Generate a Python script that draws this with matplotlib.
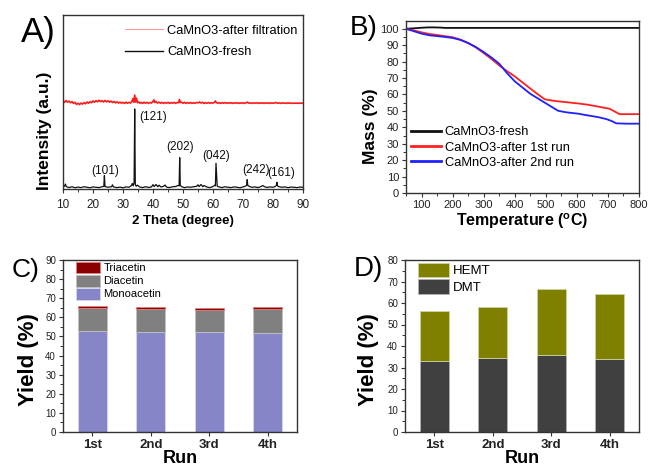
import numpy as np
import matplotlib
matplotlib.use("Agg")
import matplotlib.pyplot as plt
from matplotlib.lines import Line2D
from matplotlib.ticker import MultipleLocator

plt.rcParams['font.family'] = ['Liberation Sans', 'DejaVu Sans']

# ---------------- Panel A data (XRD) ----------------
fresh_2theta = [10.0, 10.5, 10.8, 11.1, 12.0, 13.0, 14.0, 15.0, 16.0, 17.0, 18.0, 19.0, 20.0, 21.0, 22.0,
                23.0, 23.6, 23.8, 24.0, 25.0, 26.2, 26.5, 26.8, 28.0, 29.0, 30.0, 31.0, 32.0, 32.8,
                33.1, 33.4, 33.7, 33.9, 34.1, 34.4, 34.8, 35.5, 36.5, 37.5, 38.5, 39.5, 40.0, 40.4,
                41.0, 41.6, 42.0, 42.6, 43.5, 44.0, 44.5, 45.5, 46.5, 47.5, 48.3, 48.7, 48.9, 49.1,
                49.6, 50.5, 51.5, 52.5, 53.5, 54.5, 55.0, 55.4, 56.0, 56.6, 57.0, 58.0, 59.0, 60.0,
                60.6, 60.8, 61.0, 61.4, 62.0, 63.0, 64.0, 65.0, 66.0, 67.0, 68.0, 69.0, 70.0, 70.8,
                71.2, 71.4, 71.6, 72.2, 73.0, 74.0, 75.0, 76.0, 76.6, 77.2, 78.0, 79.0, 80.0, 80.8,
                81.1, 81.3, 81.5, 82.0, 83.0, 84.0, 85.0, 86.0, 87.0, 88.0, 89.0, 90.0]
fresh_int = [0.2, 0.6, 1.8, 0.4, -0.2, 0.3, -0.3, 0.1, -0.2, 0.3, 0.0, -0.3, 0.2, 0.0, -0.2,
             0.3, 0.5, 6.7, 0.4, 0.0, 0.3, 1.4, 0.2, -0.2, 0.1, -0.3, 0.2, 0.0, 1.0,
             2.2, 0.8, 2.6, 45.0, 1.5, 0.6, 1.2, 0.2, -0.2, 0.3, -0.1, 0.2, 1.5, 0.4,
             1.6, 0.3, 1.2, 0.2, 0.5, 1.3, 0.1, -0.2, 0.3, 0.4, 1.0, 0.8, 17.0, 1.0,
             0.3, -0.2, 0.2, 0.0, 0.3, 0.5, 1.4, 0.4, 1.6, 0.3, 1.0, 0.1, -0.2, 0.4,
             1.2, 0.8, 13.8, 0.6, 0.2, -0.2, 0.3, 0.0, -0.2, 0.2, 0.0, -0.3, 0.2, 0.6,
             1.2, 4.4, 1.0, 0.4, 0.0, 0.2, -0.2, 0.4, 1.0, 0.3, -0.1, 0.2, 0.0, 0.5,
             1.0, 2.9, 0.8, 0.3, 0.0, 0.2, -0.2, 0.1, 0.0, -0.2, 0.1, 0.0]

filtered_2theta = [10.0, 10.5, 11.0, 11.5, 12.0, 12.5, 13.0, 13.5, 14.0, 14.5, 15.0, 15.5, 16.0, 16.5,
                   17.0, 17.5, 18.0, 18.5, 19.0, 19.5, 20.0, 20.5, 21.0, 21.5, 22.0, 22.5, 23.0, 23.5,
                   24.0, 24.5, 25.0, 25.5, 26.0, 26.5, 27.0, 27.5, 28.0, 28.5, 29.0, 29.5, 30.0, 30.5,
                   31.0, 31.5, 32.0, 32.5, 33.0, 33.3, 33.6, 33.9, 34.2, 34.5, 34.8, 35.2, 35.6, 36.0,
                   36.5, 37.0, 37.5, 38.0, 38.5, 39.0, 39.5, 40.0, 40.3, 40.6, 41.0, 41.5, 42.0, 42.5,
                   43.0, 43.5, 44.0, 44.5, 45.0, 45.5, 46.0, 46.5, 47.0, 47.5, 48.0, 48.5, 48.8, 49.1,
                   49.5, 50.0, 50.5, 51.0, 51.5, 52.0, 52.5, 53.0, 53.5, 54.0, 54.5, 55.0, 55.5, 56.0,
                   56.5, 57.0, 57.5, 58.0, 58.5, 59.0, 59.5, 60.0, 60.5, 60.8, 61.1, 61.5, 62.0, 62.5,
                   63.0, 63.5, 64.0, 64.5, 65.0, 65.5, 66.0, 66.5, 67.0, 67.5, 68.0, 68.5, 69.0, 69.5,
                   70.0, 70.5, 71.0, 71.5, 72.0, 72.5, 73.0, 73.5, 74.0, 74.5, 75.0, 75.5, 76.0, 76.5,
                   77.0, 77.5, 78.0, 78.5, 79.0, 79.5, 80.0, 80.5, 81.0, 81.5, 82.0, 82.5, 83.0, 83.5,
                   84.0, 84.5, 85.0, 85.5, 86.0, 86.5, 87.0, 87.5, 88.0, 88.5, 89.0, 89.5, 90.0]
filtered_int = [49.6, 48.8, 49.9, 48.9, 49.5, 48.6, 49.2, 48.2, 48.8, 47.6, 48.3, 47.5, 48.4, 47.8,
                48.6, 48.0, 49.0, 48.3, 49.2, 48.6, 49.6, 48.9, 49.8, 49.1, 50.0, 49.2, 49.8, 49.0,
                49.9, 49.1, 49.7, 48.9, 49.5, 48.7, 49.3, 48.5, 49.1, 48.4, 48.9, 48.3, 48.8, 48.2,
                48.9, 48.3, 48.8, 48.4, 49.5, 51.0, 48.8, 53.0, 49.0, 51.2, 48.6, 49.0, 48.3, 48.8,
                48.2, 48.9, 48.3, 48.8, 48.2, 48.7, 48.4, 49.4, 50.2, 48.7, 49.3, 48.4, 48.9, 48.3,
                48.8, 48.2, 48.7, 48.3, 48.8, 48.2, 48.7, 48.3, 48.8, 48.2, 48.7, 48.6, 50.5, 48.7,
                48.9, 48.3, 48.8, 48.2, 48.7, 48.3, 48.7, 48.2, 48.6, 48.3, 48.7, 48.5, 49.0, 48.4,
                48.8, 48.2, 48.6, 48.3, 48.7, 48.2, 48.6, 48.4, 48.8, 49.6, 48.7, 48.3, 48.6, 48.2,
                48.6, 48.3, 48.7, 48.2, 48.6, 48.3, 48.6, 48.2, 48.5, 48.3, 48.6, 48.2, 48.5, 48.3,
                48.6, 48.2, 48.6, 48.9, 48.3, 48.5, 48.2, 48.5, 48.3, 48.6, 48.2, 48.5, 48.3, 48.5,
                48.2, 48.5, 48.3, 48.5, 48.2, 48.5, 48.3, 48.5, 48.7, 48.3, 48.5, 48.2, 48.5, 48.3,
                48.4, 48.2, 48.5, 48.3, 48.4, 48.2, 48.4, 48.3, 48.4, 48.2, 48.4, 48.3, 48.3]

peak_labels = ["(101)", "(121)", "(202)", "(042)", "(242)", "(161)"]
peak_label_x = [24.0, 35.3, 48.9, 60.9, 74.4, 82.7]
peak_label_y = [9.5, 40.4, 23.3, 18.1, 9.9, 8.4]

# ---------------- Panel B data (TGA) ----------------
tga_fresh_T = [50, 80, 100, 120, 140, 160, 175, 200, 300, 400, 500, 600, 700, 800]
tga_fresh_mass = [100.0, 100.3, 100.6, 100.8, 100.8, 100.7, 100.5, 100.5, 100.5, 100.5, 100.5, 100.5, 100.5, 100.5]

tga_run1_T = [50, 75, 100, 125, 150, 175, 200, 225, 250, 275, 300, 325, 350, 375, 400, 425, 450,
              475, 497, 520, 540, 570, 600, 630, 660, 690, 705, 720, 737, 760, 800]
tga_run1_mass = [100.0, 99.0, 97.8, 96.8, 96.2, 95.5, 94.8, 93.4, 91.3, 88.6, 85.2, 81.6, 77.7, 74.2,
                 71.0, 67.3, 63.6, 60.0, 57.0, 56.3, 55.8, 55.2, 54.6, 53.9, 52.9, 51.8, 51.3, 49.8,
                 48.0, 48.0, 48.0]

tga_run2_T = [50, 75, 100, 125, 150, 175, 200, 225, 250, 275, 300, 325, 350, 375, 400, 425, 450,
              475, 500, 520, 539, 560, 580, 604, 630, 668, 695, 712, 727, 760, 800]
tga_run2_mass = [100.0, 98.5, 97.0, 96.0, 95.5, 95.0, 94.4, 93.2, 91.3, 88.8, 85.8, 82.5, 78.7, 73.0,
                 68.0, 64.2, 60.4, 57.5, 54.6, 52.3, 50.1, 49.3, 48.8, 48.3, 47.4, 46.2, 45.0, 43.8,
                 42.4, 42.2, 42.2]

# ---------------- Panel C data ----------------
runs = ["1st", "2nd", "3rd", "4th"]
monoacetin = [52.9, 52.2, 52.2, 51.9]
diacetin = [11.9, 12.0, 11.7, 12.3]
triacetin = [1.0, 1.1, 1.0, 1.1]

# ---------------- Panel D data ----------------
dmt = [32.8, 34.4, 35.7, 34.0]
hemt = [23.7, 23.9, 30.8, 30.4]

W, H = 649, 466
fig = plt.figure(figsize=(W / 100, H / 100), dpi=100)


def ax_at(l, t, r, b):
    return fig.add_axes([l / W, 1 - b / H, (r - l) / W, (b - t) / H])


spine_col = '#333333'


def style(ax, lab=8, pad=2):
    for s in ax.spines.values():
        s.set_color(spine_col)
        s.set_linewidth(1.0)
    ax.tick_params(which='major', direction='out', length=3, width=0.8, colors=spine_col,
                   labelsize=lab, labelcolor='#222222', pad=pad)
    ax.tick_params(which='minor', direction='out', length=2, width=0.7, colors=spine_col)


# ---- A ----
axA = ax_at(63, 15, 303, 189)
axA.plot(filtered_2theta, filtered_int, color='#ff1a1a', lw=1.2)
axA.plot(fresh_2theta, fresh_int, color='#111111', lw=0.9)
axA.set_xlim(10, 90)
axA.set_ylim(-1, 99)
axA.set_yticks([])
axA.xaxis.set_major_locator(MultipleLocator(10))
axA.xaxis.set_minor_locator(MultipleLocator(5))
style(axA, 8.5, pad=4)
for lab, px, py in zip(peak_labels, peak_label_x, peak_label_y):
    ha = 'left' if lab == "(121)" else 'center'
    axA.text(px, py, lab, ha=ha, va='center', fontsize=8.5, color='#111111')
axA.set_xlabel("2 Theta (degree)", fontsize=9.5, fontweight='bold', labelpad=3)
axA.set_ylabel("Intensity (a.u.)", fontsize=12.5, fontweight='bold')
axA.yaxis.set_label_coords(-0.046, 0.335)
axA.legend(handles=[Line2D([], [], color='#ff8080', lw=0.6),
                    Line2D([], [], color='#111111', lw=1.0)],
           labels=["CaMnO3-after filtration", "CaMnO3-fresh"],
           loc='upper right', frameon=False, fontsize=9.3, handlelength=2.9,
           handletextpad=0.35, labelspacing=0.75, borderaxespad=0.0,
           bbox_to_anchor=(1.0, 0.975))

# ---- B ----
axB = ax_at(406, 21, 639, 193)
axB.plot(tga_fresh_T, tga_fresh_mass, color='#111111', lw=1.3, label="CaMnO3-fresh")
axB.plot(tga_run1_T, tga_run1_mass, color='#ff2020', lw=1.3, label="CaMnO3-after 1st run")
axB.plot(tga_run2_T, tga_run2_mass, color='#2020ff', lw=1.3, label="CaMnO3-after 2nd run")
axB.set_xlim(50, 800)
axB.set_ylim(0, 104.7)
axB.xaxis.set_major_locator(MultipleLocator(100))
axB.xaxis.set_minor_locator(MultipleLocator(50))
axB.yaxis.set_major_locator(MultipleLocator(10))
axB.yaxis.set_minor_locator(MultipleLocator(5))
style(axB, 8, pad=2)
axB.set_xlabel("Temperature ($^{\\mathregular{o}}$C)", fontsize=11.5, fontweight='bold', labelpad=1)
axB.set_ylabel("Mass (%)", fontsize=12.5, fontweight='bold')
axB.yaxis.set_label_coords(-0.122, 0.39)
axB.legend(loc='lower left', frameon=False, fontsize=9.3, handlelength=2.3,
           handletextpad=0.3, labelspacing=0.25, borderaxespad=0.0,
           bbox_to_anchor=(0.0, 0.11))
for l in axB.get_legend().get_lines():
    l.set_linewidth(2.0)

# ---- C ----
axC = ax_at(63, 260, 297, 432)
x = np.arange(1, len(runs) + 1)
bw = 0.5
mono_col = '#8585c8'
di_col = '#808080'
tri_col = '#8b0000'
axC.bar(x, monoacetin, bw, color=mono_col, edgecolor='#d8d8f0', linewidth=0.6, label="Monoacetin")
axC.bar(x, diacetin, bw, bottom=monoacetin, color=di_col, edgecolor='#c0c0c0', linewidth=0.6, label="Diacetin")
bot2 = [m + d for m, d in zip(monoacetin, diacetin)]
axC.bar(x, triacetin, bw, bottom=bot2, color=tri_col, edgecolor='#e08080', linewidth=0.6, label="Triacetin")
axC.set_xlim(0.5, 4.5)
axC.set_ylim(0, 90)
axC.set_xticks(x)
axC.set_xticklabels(runs)
axC.yaxis.set_major_locator(MultipleLocator(10))
axC.yaxis.set_minor_locator(MultipleLocator(5))
style(axC, 7)
for t in axC.get_xticklabels():
    t.set_fontsize(9.5)
    t.set_fontweight('bold')
axC.set_xlabel("Run", fontsize=13, fontweight='bold')
axC.xaxis.set_label_coords(0.5, -0.105)
axC.set_ylabel("Yield (%)", fontsize=16, fontweight='bold')
axC.yaxis.set_label_coords(-0.104, 0.42)
h, lb = axC.get_legend_handles_labels()
axC.legend(h[::-1], lb[::-1], loc='upper left', frameon=False, fontsize=8,
           handlelength=2.1, handleheight=1.25, handletextpad=0.35, labelspacing=0.12,
           borderaxespad=0.0, borderpad=0.15, bbox_to_anchor=(0.05, 1.0))

# ---- D ----
axD = ax_at(405, 260, 639, 432)
dmt_col = '#404040'
hemt_col = '#808000'
axD.bar(x, dmt, bw, color=dmt_col, edgecolor='#b0b0b0', linewidth=0.6, label="DMT")
axD.bar(x, hemt, bw, bottom=dmt, color=hemt_col, edgecolor='#d0d0a0', linewidth=0.6, label="HEMT")
axD.set_xlim(0.5, 4.5)
axD.set_ylim(0, 80)
axD.set_xticks(x)
axD.set_xticklabels(runs)
axD.yaxis.set_major_locator(MultipleLocator(10))
axD.yaxis.set_minor_locator(MultipleLocator(5))
style(axD, 7)
for t in axD.get_xticklabels():
    t.set_fontsize(9.5)
    t.set_fontweight('bold')
axD.set_xlabel("Run", fontsize=13, fontweight='bold')
axD.xaxis.set_label_coords(0.5, -0.105)
axD.set_ylabel("Yield (%)", fontsize=16, fontweight='bold')
axD.yaxis.set_label_coords(-0.111, 0.42)
h, lb = axD.get_legend_handles_labels()
axD.legend(h[::-1], lb[::-1], loc='upper left', frameon=False, fontsize=9.5,
           handlelength=2.3, handleheight=1.35, handletextpad=0.35, labelspacing=0.12,
           borderaxespad=0.0, borderpad=0.2, bbox_to_anchor=(0.045, 1.0))

# panel letters
fig.text(21 / W, 1 - 42 / H, "A)", fontsize=25, va='baseline', ha='left')
fig.text(350 / W, 1 - 35 / H, "B)", fontsize=20, va='baseline', ha='left')
fig.text(12 / W, 1 - 277 / H, "C)", fontsize=19, va='baseline', ha='left')
fig.text(354 / W, 1 - 276 / H, "D)", fontsize=20, va='baseline', ha='left')

fig.savefig("out.png", dpi=100)
